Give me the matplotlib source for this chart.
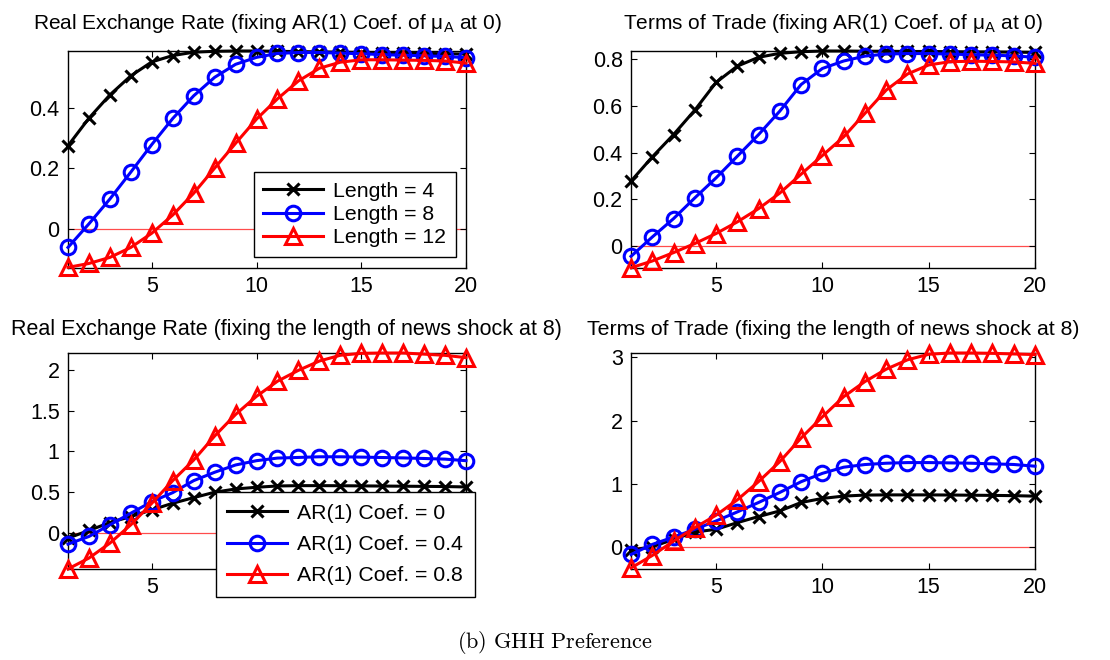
import numpy as np
import matplotlib
matplotlib.use('Agg')
import matplotlib.pyplot as plt

plt.rcParams['font.family'] = ['Liberation Sans', 'DejaVu Sans']
plt.rcParams['mathtext.fontset'] = 'custom'
plt.rcParams['mathtext.rm'] = 'Liberation Sans'
plt.rcParams['mathtext.it'] = 'Liberation Sans'

#
# Data (horizon 1..20)
#
t = np.arange(1, 21)

# Real exchange rate, AR(1) coef. of mu_A fixed at 0
rer_len4 = [0.274, 0.365, 0.442, 0.505, 0.551, 0.572, 0.583, 0.586, 0.587, 0.587,
            0.586, 0.585, 0.584, 0.583, 0.582, 0.581, 0.580, 0.579, 0.578, 0.577]
rer_len8 = [-0.062, 0.016, 0.098, 0.187, 0.278, 0.364, 0.439, 0.500, 0.543, 0.566,
            0.579, 0.582, 0.582, 0.580, 0.578, 0.575, 0.573, 0.571, 0.569, 0.565]
rer_len12 = [-0.128, -0.115, -0.095, -0.062, -0.015, 0.045, 0.117, 0.200, 0.282, 0.362,
             0.429, 0.488, 0.530, 0.550, 0.558, 0.558, 0.557, 0.556, 0.554, 0.547]

# Terms of trade, AR(1) coef. of mu_A fixed at 0
tot_len4 = [0.277, 0.381, 0.477, 0.582, 0.701, 0.771, 0.809, 0.826, 0.833, 0.836,
            0.836, 0.835, 0.835, 0.834, 0.834, 0.833, 0.832, 0.832, 0.831, 0.830]
tot_len8 = [-0.046, 0.037, 0.116, 0.205, 0.291, 0.384, 0.477, 0.578, 0.692, 0.761,
            0.793, 0.814, 0.823, 0.825, 0.825, 0.823, 0.820, 0.818, 0.815, 0.809]
tot_len12 = [-0.095, -0.066, -0.030, 0.009, 0.052, 0.102, 0.159, 0.226, 0.307, 0.387,
             0.467, 0.568, 0.668, 0.737, 0.776, 0.790, 0.792, 0.791, 0.789, 0.783]

# Real exchange rate, news shock length fixed at 8
rer_ar0 = [-0.069, 0.025, 0.123, 0.197, 0.279, 0.361, 0.430, 0.497, 0.537, 0.558,
           0.574, 0.578, 0.578, 0.577, 0.575, 0.573, 0.571, 0.569, 0.567, 0.562]
rer_ar04 = [-0.143, -0.049, 0.095, 0.238, 0.381, 0.492, 0.640, 0.743, 0.833, 0.886,
            0.918, 0.926, 0.934, 0.934, 0.930, 0.925, 0.920, 0.913, 0.905, 0.886]
rer_ar08 = [-0.450, -0.315, -0.131, 0.095, 0.361, 0.640, 0.894, 1.190, 1.456, 1.680,
            1.866, 2.000, 2.115, 2.186, 2.210, 2.214, 2.214, 2.200, 2.185, 2.157]

# Terms of trade, news shock length fixed at 8
tot_ar0 = [-0.042, 0.011, 0.127, 0.244, 0.286, 0.392, 0.488, 0.577, 0.710, 0.774,
           0.811, 0.827, 0.830, 0.830, 0.830, 0.828, 0.825, 0.822, 0.818, 0.810]
tot_ar04 = [-0.111, 0.048, 0.164, 0.286, 0.418, 0.561, 0.710, 0.869, 1.038, 1.170,
            1.267, 1.309, 1.330, 1.340, 1.340, 1.335, 1.330, 1.320, 1.310, 1.283]
tot_ar08 = [-0.323, -0.127, 0.100, 0.313, 0.509, 0.752, 1.040, 1.356, 1.728, 2.062,
            2.380, 2.619, 2.814, 2.962, 3.050, 3.070, 3.070, 3.065, 3.055, 3.045]

labels_len = ['Length = 4', 'Length = 8', 'Length = 12']
labels_ar = ['AR(1) Coef. = 0', 'AR(1) Coef. = 0.4', 'AR(1) Coef. = 0.8']

titles = [
    r'Real Exchange Rate (fixing AR(1) Coef. of μ$_\mathrm{A}$ at 0)',
    r'Terms of Trade (fixing AR(1) Coef. of μ$_\mathrm{A}$ at 0)',
    'Real Exchange Rate (fixing the length of news shock at 8)',
    'Terms of Trade (fixing the length of news shock at 8)',
]
panels = [
    (rer_len4, rer_len8, rer_len12),
    (tot_len4, tot_len8, tot_len12),
    (rer_ar0, rer_ar04, rer_ar08),
    (tot_ar0, tot_ar04, tot_ar08),
]
ylims = [(-0.130, 0.587), (-0.096, 0.836), (-0.450, 2.214), (-0.340, 3.070)]
yticks = [[0, 0.2, 0.4], [0, 0.2, 0.4, 0.6, 0.8], [0, 0.5, 1, 1.5, 2], [0, 1, 2, 3]]
ytick_labels = [['0', '0.2', '0.4'], ['0', '0.2', '0.4', '0.6', '0.8'],
                ['0', '0.5', '1', '1.5', '2'], ['0', '1', '2', '3']]
xticks = [5, 10, 15, 20]
xtick_labels = ['5', '10', '15', '20']

#
# Figure set up
#
W, H = 1110, 660
fig = plt.figure(figsize=(W / 100, H / 100), dpi=100)


def px_axes(x0, y0, x1, y1):
    return fig.add_axes([x0 / W, 1 - y1 / H, (x1 - x0) / W, (y1 - y0) / H])


axes = [
    px_axes(68, 51, 466, 268),
    px_axes(631, 51, 1035, 268),
    px_axes(68, 353, 466, 569),
    px_axes(631, 353, 1035, 569),
]

styles = [
    dict(color='black', marker='x', markersize=8, markeredgewidth=2.2),
    dict(color='blue', marker='o', markersize=10.5, markerfacecolor='none', markeredgewidth=2.2),
    dict(color='red', marker='^', markersize=11.5, markerfacecolor='none', markeredgewidth=2.2),
]

handles_all = []
for i, ax in enumerate(axes):
    ax.plot([1, 20], [0, 0], color='red', lw=0.9, alpha=0.7, zorder=1)
    hs = []
    for series, st in zip(panels[i], styles):
        h, = ax.plot(t, series, lw=2.2, clip_on=False, zorder=3, **st)
        hs.append(h)
    handles_all.append(hs)
    ax.set_xlim(1, 20)
    ax.set_ylim(*ylims[i])
    ax.set_xticks(xticks)
    if i == 2:
        # the legend sits over these labels in the original
        ax.set_xticklabels(['5', '', '', ''])
    else:
        ax.set_xticklabels(xtick_labels)
    ax.set_yticks(yticks[i])
    ax.set_yticklabels(ytick_labels[i])
    ax.tick_params(direction='in', length=4, width=0.8, labelsize=15.5,
                   top=True, right=True, pad=6)
    for sp in ax.spines.values():
        sp.set_linewidth(1.0)
    if i == 2:
        ax.set_title(titles[i], fontsize=15.5, x=0.549, pad=13)
    elif i == 3:
        ax.set_title(titles[i], fontsize=15.3, pad=13)
    else:
        ax.set_title(titles[i], fontsize=15, pad=16)

leg_kw = dict(loc='lower right', borderaxespad=0, fancybox=False, edgecolor='black',
              framealpha=1, fontsize=15.3, handlelength=2.8, handletextpad=0.5)

leg1 = axes[0].legend(handles_all[0], labels_len, bbox_to_anchor=(0.975, 0.051),
                      labelspacing=0.2, borderpad=0.45, **leg_kw)
leg1.get_frame().set_linewidth(1.0)

leg2 = axes[2].legend(handles_all[2], labels_ar, bbox_to_anchor=(475 / W, 1 - 597 / H),
                      bbox_transform=fig.transFigure, labelspacing=0.58, borderpad=0.55,
                      **leg_kw)
leg2.get_frame().set_linewidth(1.0)
leg2.set_zorder(10)

fig.text(555 / W, 1 - 643 / H, r'$\mathrm{(b)\ GHH\ Preference}$', ha='center', va='center',
         fontsize=16, math_fontfamily='cm')

fig.savefig('out.png', dpi=100)
